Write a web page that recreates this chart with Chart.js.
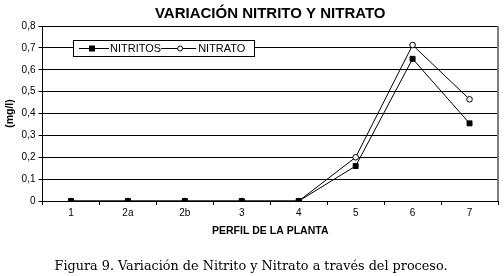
<!DOCTYPE html>
<html>
<head>
<meta charset="utf-8">
<script src="https://cdn.jsdelivr.net/npm/chart.js@4/dist/chart.umd.min.js"></script>
<style>
  html, body { margin: 0; padding: 0; background: #fff; }
  #wrap { width: 504px; height: 276px; }
</style>
</head>
<body>
<div id="wrap"><canvas id="chart" width="504" height="276"></canvas></div>
<script>
const categories = ["1", "2a", "2b", "3", "4", "5", "6", "7"];
const nitritos = [0, 0, 0, 0, 0, 0.16, 0.65, 0.355];
const nitrato = [0, 0, 0, 0, 0, 0.2, 0.713, 0.465];
const yTicks = [0, 0.1, 0.2, 0.3, 0.4, 0.5, 0.6, 0.7, 0.8];
const titleText = "VARIACIÓN NITRITO Y NITRATO";

const fmt = (v) => (v === 0 ? "0" : v.toFixed(1).replace(".", ","));

// title over the plot, frame and legend inside the plot area
const boxPlugin = {
  id: "boxLegend",
  afterDraw(chart) {
    const ctx = chart.ctx;
    const a = chart.chartArea;
    ctx.save();
    ctx.fillStyle = "#000";
    ctx.font = "bold 15px 'Liberation Sans'";
    ctx.textAlign = "center";
    ctx.textBaseline = "middle";
    ctx.fillText(titleText, (a.left + a.right) / 2, 14);
    ctx.textAlign = "left";

    ctx.strokeStyle = "#808080";
    ctx.lineWidth = 2;
    ctx.beginPath();
    ctx.moveTo(a.right, a.top);
    ctx.lineTo(a.right, a.bottom);
    ctx.stroke();
    ctx.strokeStyle = "#000";
    ctx.lineWidth = 1;
    ctx.beginPath();
    ctx.moveTo(a.left, a.top + 0.5);
    ctx.lineTo(a.right - 1, a.top + 0.5);
    ctx.stroke();

    // legend box
    const lx = 73, ly = 40, lw = 181, lh = 16;
    ctx.fillStyle = "#fff";
    ctx.fillRect(lx, ly, lw, lh);
    ctx.strokeRect(lx + 0.5, ly + 0.5, lw, lh);
    const cy = ly + lh / 2 + 0.5;
    ctx.font = "11px 'Liberation Sans'";
    ctx.fillStyle = "#000";
    // NITRITOS
    ctx.beginPath();
    ctx.moveTo(lx + 6, cy);
    ctx.lineTo(lx + 36, cy);
    ctx.stroke();
    ctx.fillRect(lx + 16, cy - 3, 6, 6);
    ctx.fillText("NITRITOS", lx + 37, cy + 0.5);
    // NITRATO
    const x2 = lx + 37 + ctx.measureText("NITRITOS").width;
    ctx.beginPath();
    ctx.moveTo(x2, cy);
    ctx.lineTo(x2 + 35, cy);
    ctx.stroke();
    ctx.beginPath();
    ctx.arc(x2 + 19, cy, 2.5, 0, Math.PI * 2);
    ctx.fillStyle = "#fff";
    ctx.fill();
    ctx.stroke();
    ctx.fillStyle = "#000";
    ctx.fillText("NITRATO", x2 + 37, cy + 0.5);
    ctx.restore();
  }
};

new Chart(document.getElementById("chart"), {
  type: "line",
  data: {
    labels: categories,
    datasets: [
      {
        label: "NITRITOS",
        data: nitritos,
        borderColor: "#000",
        borderWidth: 1,
        pointStyle: "rect",
        pointRadius: 3.5,
        pointBackgroundColor: "#000",
        pointBorderColor: "#000",
        tension: 0
      },
      {
        label: "NITRATO",
        data: nitrato,
        borderColor: "#000",
        borderWidth: 1,
        pointStyle: "circle",
        pointRadius: 2.8,
        pointBackgroundColor: "#fff",
        pointBorderColor: "#000",
        pointBorderWidth: 1,
        tension: 0
      }
    ]
  },
  options: {
    responsive: false,
    animation: false,
    layout: { padding: { left: 4, right: 6, top: 26, bottom: 0 } },
    plugins: {
      legend: { display: false },
      tooltip: { enabled: false },
      title: { display: false },
      subtitle: {
        display: true,
        position: "bottom",
        text: "Figura 9. Variación de Nitrito y Nitrato a través del proceso.",
        color: "#000",
        font: { family: "'DejaVu Serif'", size: 12.8 },
        padding: { top: 21, bottom: 2 }
      }
    },
    scales: {
      x: {
        offset: true,
        grid: {
          offset: true,
          drawOnChartArea: false,
          color: "#000",
          tickLength: 4
        },
        border: { color: "#000", width: 1 },
        ticks: {
          color: "#000",
          font: { family: "'Liberation Sans'", size: 10 },
          padding: 2
        },
        title: {
          display: true,
          text: "PERFIL DE LA PLANTA",
          color: "#000",
          font: { family: "'Liberation Sans'", size: 10.5, weight: "bold" },
          padding: { top: 4, bottom: 0 }
        }
      },
      y: {
        min: 0,
        max: 0.8,
        afterBuildTicks(axis) {
          axis.ticks = yTicks.map((v) => ({ value: v }));
        },
        grid: { color: "#000", tickLength: 4 },
        border: { color: "#000", width: 1 },
        ticks: {
          color: "#000",
          font: { family: "'Liberation Sans'", size: 10 },
          padding: 3,
          callback: (v) => fmt(v)
        },
        title: {
          display: true,
          text: "(mg/l)",
          color: "#000",
          font: { family: "'Liberation Sans'", size: 10.5, weight: "bold" },
          padding: { top: 0, bottom: 2 }
        }
      }
    }
  },
  plugins: [boxPlugin]
});
</script>
</body>
</html>
